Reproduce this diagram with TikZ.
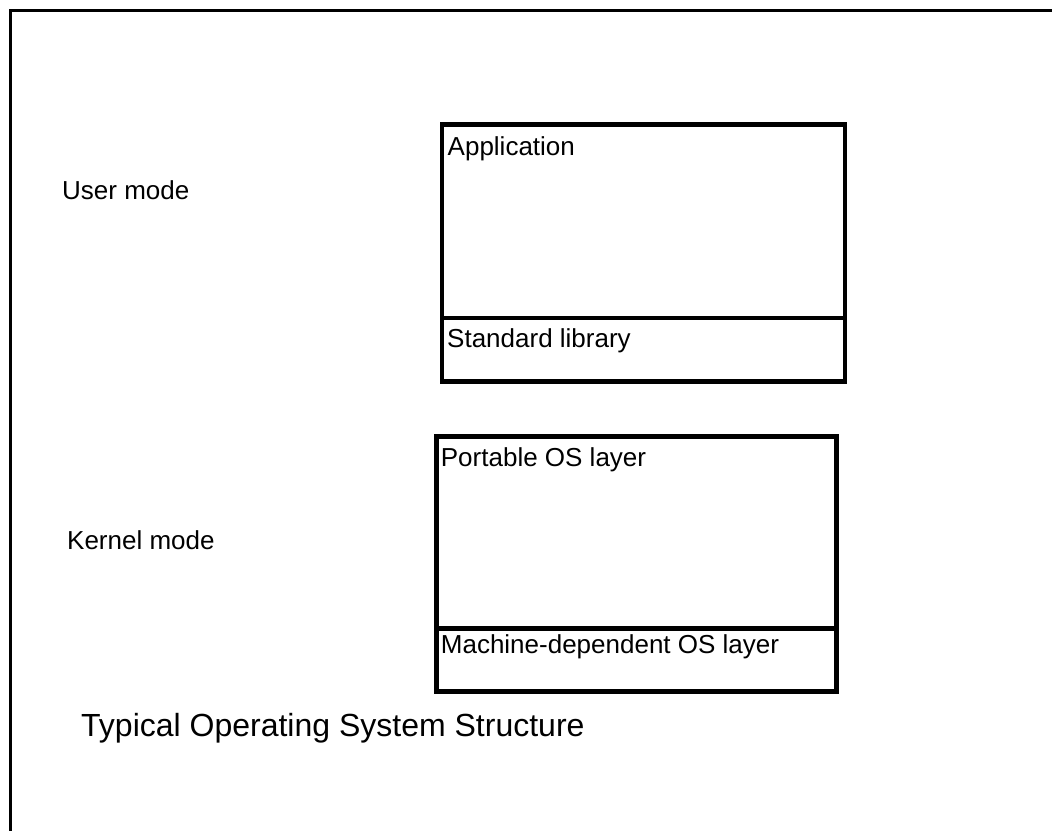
\documentclass[tikz,border=0pt]{standalone}
\usepackage{fontspec}
\setmainfont{Liberation Sans}
\begin{document}
\begin{tikzpicture}[x=1pt,y=-1pt,
  layer/.style={draw=black, line width=4.5pt, rectangle, inner sep=0pt, outer sep=0pt, anchor=north west},
  txt/.style={inner sep=0pt, anchor=base west, font=\fontsize{26}{30}\selectfont},
  titletxt/.style={inner sep=0pt, anchor=base west, font=\fontsize{32}{38}\selectfont}]
  \useasboundingbox (0,0) rectangle (1052,830);
  \clip (0,0) rectangle (1052,830);
  \fill[white] (0,0) rectangle (1052,830);

  % page frame (runs off the right and bottom edges)
  \draw[line width=3pt] (10.5,10) rectangle (1080,860);

  % user-mode stack
  \node[layer, minimum width=403pt, minimum height=193.3pt] (app) at (442,124.7) {};
  \node[layer, minimum width=403pt, minimum height=63.7pt] (stdlib) at (442,318) {};
  \node[txt] (apptxt) at (447.5,155) {Application};
  \node[txt] (stdlibtxt) at (447,347.7) {Standard library};

  % kernel-mode stack
  \node[layer, minimum width=400pt, minimum height=191.6pt] (portable) at (436.7,436.7) {};
  \node[layer, minimum width=400pt, minimum height=63.4pt] (machine) at (436.7,628.3) {};
  \node[txt] (portabletxt) at (440.7,466) {Portable OS layer};
  \node[txt] (machinetxt) at (440.7,653.3) {Machine-dependent OS layer};

  % mode labels
  \node[txt] (usermode) at (62,199.3) {User mode};
  \node[txt] (kernelmode) at (67,549.3) {Kernel mode};

  % caption
  \node[titletxt] (caption) at (81,736.7) {Typical Operating System Structure};
\end{tikzpicture}
\end{document}
